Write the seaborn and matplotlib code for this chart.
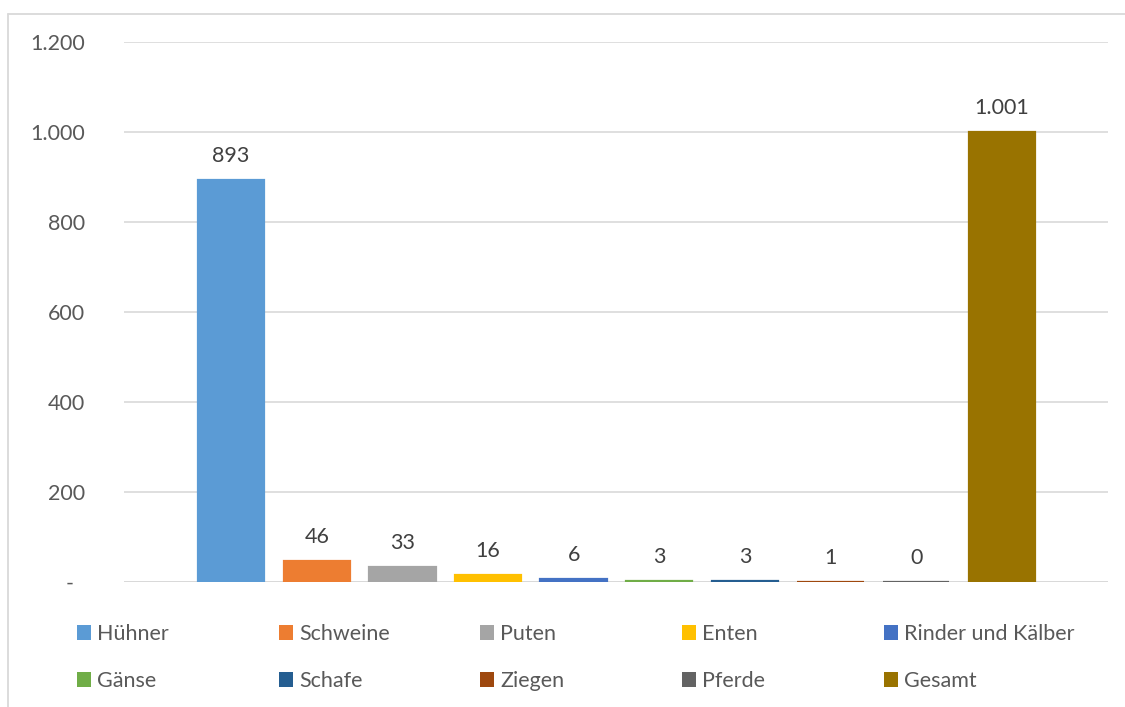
import matplotlib
matplotlib.use("Agg")
import matplotlib.pyplot as plt
import seaborn as sns
from matplotlib.lines import Line2D
from matplotlib.patches import Patch
from matplotlib.ticker import FuncFormatter

# Daten
tiere = ["Hühner", "Schweine", "Puten", "Enten", "Rinder und Kälber",
         "Gänse", "Schafe", "Ziegen", "Pferde", "Gesamt"]
werte = [893, 46, 33, 16, 6, 3, 3, 1, 0.4, 1001]
beschriftung = ["893", "46", "33", "16", "6", "3", "3", "1", "0", "1.001"]
farben = ["#5B9BD5", "#ED7D31", "#A5A5A5", "#FFC000", "#4472C4",
          "#70AD47", "#255E91", "#9E480E", "#636363", "#997300"]
yticks = [0, 200, 400, 600, 800, 1000, 1200]

sns.set_style("white")
plt.rcParams["font.family"] = ["Lato", "DejaVu Sans"]
textfarbe = "#595959"

W, H = 1125, 707
fig = plt.figure(figsize=(W / 100, H / 100), dpi=100)
ax = fig.add_axes([124 / W, (H - 582) / H, (1108 - 124) / W, (582 - 42) / H])

ax.axhline(0, color="#D9D9D9", linewidth=1.4, zorder=0.5)
sns.barplot(x=tiere, y=werte, hue=tiere, palette=farben, width=0.775,
            legend=False, ax=ax, saturation=1, linewidth=1.6)
for cont, f in zip(ax.containers, farben):
    for b in cont:
        b.set_edgecolor(f)
        b.set_zorder(3)

for cont, lab in zip(ax.containers, beschriftung):
    ax.bar_label(cont, labels=[lab], padding=10, fontsize=15.5, color="#404040")

ax.set_ylim(0, 1200)
ax.set_xlim(-1.25, 10.24)
ax.set_yticks(yticks)
ax.yaxis.set_major_formatter(FuncFormatter(
    lambda v, p: "-\u2002" if v == 0 else f"{int(v):,}".replace(",", ".")))
ax.tick_params(axis="y", length=0, pad=28, labelsize=15.5, labelcolor=textfarbe)
ax.set_xticks([])
ax.grid(axis="y", color="#D9D9D9", linewidth=1.2)
ax.set_axisbelow(True)
for s in ax.spines.values():
    s.set_visible(False)

# Legende: 5 Spalten, je 2 Einträge
spalten_x = [77, 279, 480, 682, 884]
for c in range(5):
    handles = [Patch(facecolor=farben[c], edgecolor="none"),
               Patch(facecolor=farben[c + 5], edgecolor="none")]
    fig.legend(handles=handles, labels=[tiere[c], tiere[c + 5]],
               loc="upper left", bbox_to_anchor=(spalten_x[c] / W, (H - 624) / H),
               frameon=False, fontsize=15.5, labelcolor=textfarbe,
               handlelength=0.65, handleheight=0.65, handletextpad=0.3,
               labelspacing=1.25, borderpad=0, borderaxespad=0)

# Rahmen des Diagrammbereichs
fig.add_artist(Line2D([7.5 / W, 1], [(H - 13.5) / H] * 2, color="#D9D9D9", linewidth=1.3))
fig.add_artist(Line2D([7.5 / W] * 2, [0, (H - 13.5) / H], color="#D9D9D9", linewidth=1.3))

fig.savefig("out.png", dpi=100)
